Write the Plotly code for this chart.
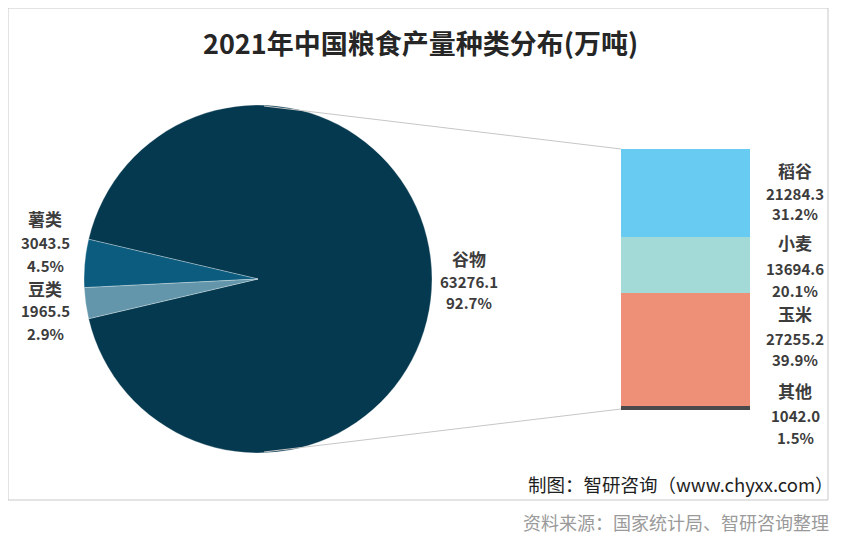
import plotly.graph_objects as go

# pie part (万吨)
pie_names = ["谷物", "薯类", "豆类"]
pie_values = [63276.1, 3043.5, 1965.5]
pie_colors = ["#05394f", "#0b5c7e", "#6396aa"]

# breakdown of 谷物
bar_names = ["稻谷", "小麦", "玉米", "其他"]
bar_values = [21284.3, 13694.6, 27255.2, 1042.0]
bar_colors = ["#67cbf2", "#a3d9d6", "#ee8f78", "#4a4a4c"]

title = "2021年中国粮食产量种类分布(万吨)"
credit = "制图：智研咨询（www.chyxx.com）"
source = "资料来源：国家统计局、智研咨询整理"

W, H = 850, 541
OFF = 8  # page body margin, figure starts at (8, 8) in the window
FONT = "Noto Sans CJK SC"
total = sum(pie_values)


def px(x):
    return (x - OFF) / W


def py(y):
    return 1 - (y - OFF) / H


fig = go.Figure()

# pie, big slice facing the bar on the right
rot = 90 - pie_values[0] / total * 180
fig.add_trace(
    go.Pie(
        labels=pie_names,
        values=pie_values,
        sort=False,
        direction="counterclockwise",
        rotation=rot,
        marker=dict(colors=pie_colors, line=dict(color="rgba(255,255,255,0.5)", width=0.6)),
        textinfo="none",
        hoverinfo="label+value+percent",
        domain=dict(x=[px(84), px(432)], y=[py(453), py(105)]),
        showlegend=False,
    )
)

# stacked bar, bottom-up
for name, val, col in reversed(list(zip(bar_names, bar_values, bar_colors))):
    fig.add_trace(
        go.Bar(
            x=[0],
            y=[val],
            name=name,
            marker=dict(color=col, line=dict(width=0)),
            showlegend=False,
        )
    )

annotations = []


def add_label(x, ys, name, val):
    lines = [name, f"{val:.1f}", f"{val / total * 100:.1f}%"]
    for i, (txt, y) in enumerate(zip(lines, ys)):
        annotations.append(
            dict(
                x=px(x),
                y=py(y),
                xref="paper",
                yref="paper",
                text=f"<b>{txt}</b>",
                showarrow=False,
                xanchor="center",
                yanchor="middle",
                font=dict(family=FONT, size=17 if i == 0 else 15, color="#3c3c3c"),
            )
        )


add_label(469, [258, 281, 302], pie_names[0], pie_values[0])
add_label(45, [218, 243, 265], pie_names[1], pie_values[1])
add_label(45, [288, 310, 333], pie_names[2], pie_values[2])

bar_label_y = [[170, 193, 214], [243, 268, 290], [313, 338, 359], [390, 415, 437]]
for name, val, ys in zip(bar_names, bar_values, bar_label_y):
    add_label(795, ys, name, val)

annotations += [
    dict(
        x=px(420), y=py(42), xref="paper", yref="paper",
        text=f"<b>{title}</b>", showarrow=False,
        xanchor="center", yanchor="middle",
        font=dict(family=FONT, size=27, color="#262626"),
    ),
    dict(
        x=px(836), y=py(484), xref="paper", yref="paper",
        text=credit, showarrow=False,
        xanchor="right", yanchor="middle",
        font=dict(family=FONT, size=18.5, color="#1e1e1e"),
    ),
    dict(
        x=px(831), y=py(522), xref="paper", yref="paper",
        text=source, showarrow=False,
        xanchor="right", yanchor="middle",
        font=dict(family=FONT, size=18, color="#9a9a9a"),
    ),
]

shapes = [
    # frame
    dict(type="rect", xref="paper", yref="paper",
         x0=px(8), x1=px(828), y0=py(500), y1=py(8),
         line=dict(color="#c8c8c8", width=1)),
    # connectors pie -> bar
    dict(type="line", xref="paper", yref="paper",
         x0=px(264), y0=py(106), x1=px(621), y1=py(149),
         line=dict(color="#c6c6c6", width=1)),
    dict(type="line", xref="paper", yref="paper",
         x0=px(264), y0=py(452), x1=px(621), y1=py(409),
         line=dict(color="#c6c6c6", width=1)),
]

fig.update_layout(
    width=W,
    height=H,
    margin=dict(l=0, r=0, t=0, b=0, pad=0),
    paper_bgcolor="white",
    plot_bgcolor="rgba(0,0,0,0)",
    barmode="stack",
    bargap=0,
    xaxis=dict(domain=[px(621), px(750)], range=[-0.5, 0.5], visible=False, fixedrange=True),
    yaxis=dict(domain=[py(410), py(149)], range=[0, sum(bar_values)], visible=False, fixedrange=True),
    annotations=annotations,
    shapes=shapes,
    font=dict(family=FONT),
)

fig.write_html("out.html")
